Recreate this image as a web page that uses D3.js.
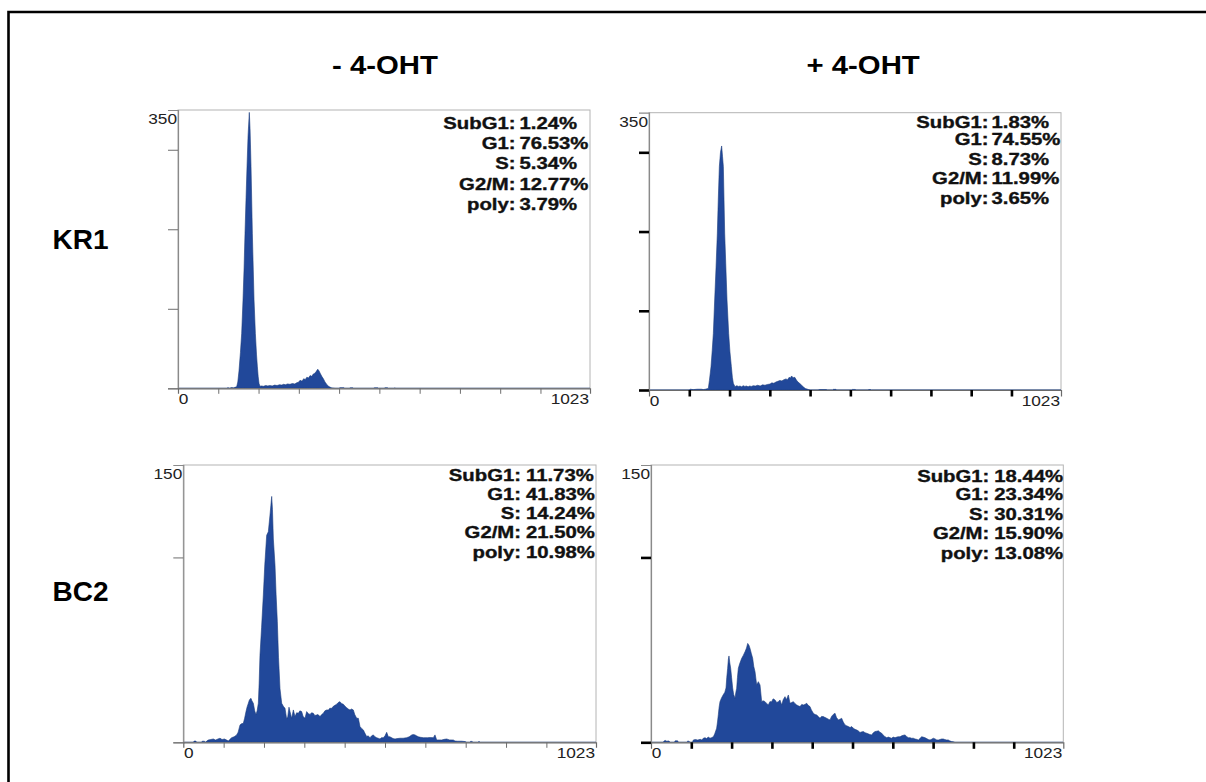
<!DOCTYPE html>
<html>
<head>
<meta charset="utf-8">
<script src="https://cdn.jsdelivr.net/npm/d3@7"></script>
<style>
  html, body { margin: 0; padding: 0; background: #ffffff; }
  svg { display: block; }
</style>
</head>
<body>
<svg id="chart" width="1206" height="782"></svg>
<script>
// ---------- data ----------
const conditions = ["- 4-OHT", "+ 4-OHT"];
const cellLines = ["KR1", "BC2"];
const phaseLabels = ["SubG1", "G1", "S", "G2/M", "poly"];

// phase percentages per histogram
const kr1MinusPct = ["1.24%", "76.53%", "5.34%", "12.77%", "3.79%"];
const kr1PlusPct  = ["1.83%", "74.55%", "8.73%", "11.99%", "3.65%"];
const bc2MinusPct = ["11.73%", "41.83%", "14.24%", "21.50%", "10.98%"];
const bc2PlusPct  = ["18.44%", "23.34%", "30.31%", "15.90%", "13.08%"];

// axis settings
const channelMax = 1023;
const channelTicks = [100, 200, 300, 400, 500, 600, 700, 800, 900];
const kr1CountMax = 350;
const bc2CountMax = 150;
const kr1CountTicks = [0, 100, 200, 300];
const bc2CountTicks = [0, 100];

// DNA content histograms: [channel, count]
const kr1Minus = [
  [0,0],[122,0],[124,1],[127,0],[130,0.5],[134,1],[137,0.5],[140,1],[143,1.5],[145.7,2],
  [148.5,8],[151.5,22],[155,45],[158.1,69],[161.4,111],[164,150],[166.4,195],[169,240],
  [171.4,279],[174,318],[177.1,347],[179,325],[181.3,279],[184.6,195],[188.8,111],[192.1,69],
  [195,42],[197.1,27],[199,15],[201.2,6],[203.7,2.5],[207.8,3],[212,2.5],[218,3.5],[223,3],
  [228,3.5],[234,3],[240,4],[246,3.5],[252,4.5],[258,4],[262,5],[267,4.5],[272,5.5],[278,5],
  [284,6],[290,5.5],[295,7],[299,7.5],[303,10],[308,9],[312,12],[316,11],[320,14],[324,13],
  [328,16],[332,15],[336,18],[340,19],[343,21],[347,24],[350,22],[353,19],[357,15],[361,12],
  [365,8],[369,5],[373,3],[377,1.5],[382,0.5],[390,0],[400,0],[402,0.8],[412,0.8],[414,0],
  [425,0],[428,0.6],[434,0.6],[436,0],[485,0],[488,0.6],[496,0.6],[498,0],[512,0],[514,0.7],
  [520,0.7],[522,0],[536,0],[538,0.5],[541,0],[1023,0]
];
const kr1Plus = [
  [0,0],[100,0],[102,1],[110,0.5],[120,1],[130,1],[135,0.5],[140,1],[144,1.5],[147.3,2],
  [150,12],[154,29.5],[157,50],[159.8,71.5],[163.1,113.6],[166.5,155],[169.7,198],[172,240],
  [174.7,282],[177.5,300],[180.4,308],[182.5,295],[184.6,282],[187.9,198],[190.5,160],
  [193.7,113.6],[197.8,71.5],[201,48],[204.5,29.5],[207,16],[209.4,8.4],[213.6,4.2],[218,5.5],
  [222,4.5],[226,5],[230,4],[234,5.5],[238,4.5],[242,5],[246,4],[250,5],[254,4.5],[259,5.5],
  [264,5],[270,6],[276,5],[282,6.5],[288,6],[294,7],[300.5,7.5],[305,9],[310,8.5],[315,10],
  [320,11],[325,12],[330,11.5],[335,13],[340,14],[344,13],[348,16],[351,15],[354,17.7],
  [358,15.5],[362,16],[366,12.6],[370,10],[374,8.4],[379,6],[383,4],[388,2],[395.7,0.6],
  [400,0],[420,0],[423,0.5],[440,0.5],[443,0],[456,0],[458,0.8],[464,0.8],[466,0],[503,0],
  [505,0.7],[512,0.7],[514,0],[544,0],[546,0.5],[550,0.5],[552,0],[1023,0]
];
const bc2Minus = [
  [0,0],[25,0],[27,0.7],[31,0.7],[33,0],[45,0],[47,0.6],[52,0.6],[55,0],[58,0.7],[62,1.25],
  [68,1.5],[74.4,1.8],[80,1.2],[86,1.8],[91,2.2],[96,1.5],[102,1.8],[107.5,1.2],[111.6,0.7],
  [115,1.5],[119.9,2.5],[126,3],[132.3,4],[136,5.5],[140.6,9.4],[144,10],[148.8,10.3],[152,13],
  [155.4,16.6],[158,19],[161.2,21.1],[164,23],[167.8,23.8],[170,22.5],[173.6,21.1],[177,17],
  [180.2,15],[183,17],[186,21.1],[188,32],[190.1,47.2],[194,62],[198.4,79.7],[202,96],
  [206.7,112],[210.8,113.9],[214.9,122.9],[217,128],[219.1,133],[221,126],[223.2,110],
  [227.3,95.9],[230,80],[233.1,65.2],[236,46],[239.7,29],[243.9,21.1],[248,19.5],[252.1,18.4],
  [256.2,12.6],[259,14],[262,19],[264.5,16.6],[268.6,13],[272.8,17.5],[276.9,13.9],[281,16],
  [285.2,15.7],[289,17],[293.4,16.6],[297,14],[301.7,13],[305.8,16.6],[310,15.5],[314.1,15.1],
  [318,16],[322.3,15.7],[326,14.5],[330.6,14.8],[334,15],[338.9,13.9],[343,15],[347.1,15.7],
  [351,17],[355.4,17.5],[360,17.5],[363,18.4],[367.8,18.4],[372,19.5],[376,20],[380.2,20.6],
  [384,21.5],[388.4,22],[392,21],[396.7,20.6],[401,19.5],[405,18.7],[409,18],[413.2,17.5],
  [417,18],[421.5,17.5],[425,15],[429.8,13],[433.9,13],[438,8.5],[442,7.5],[446.3,6.7],
  [450,5],[454.6,3.1],[458,3.5],[462.8,2.5],[467,3.5],[471.1,4],[475,3],[479.3,2.5],[483,2.2],
  [487.6,1.8],[491,2.5],[495.9,2.5],[500,3.5],[504.1,5.4],[508.3,3],[512,3],[516.5,2.5],
  [520,2],[524.8,1.8],[530,2],[537.2,2.2],[545,2.2],[553.7,2.5],[560,3],[566.1,3.96],[570,4.2],
  [574.4,4],[578,3.5],[582.6,3],[588,2.7],[595,2.5],[605,2.5],[612,2.6],[619.8,2.5],[623.9,4],
  [628.1,1.25],[635,1.3],[640.5,1.25],[647,1.6],[652.9,1.8],[660,1.3],[669.4,1.25],[673.5,0.7],
  [680,0.6],[690,0.6],[698.3,0.4],[702.5,0],[710,0],[712,0.5],[716,0.5],[718,0],[730,0],
  [733,0.5],[736,0],[1023,0]
];
const bc2Plus = [
  [0,0],[30,0],[33,0.8],[36,1],[39,0.6],[44,0.7],[48,0],[58,0],[60,0.8],[66,0.8],[68,0],[88,0],
  [91,0.6],[94,0.6],[97,0],[103,0],[105,1.25],[110,1.5],[116,1.2],[122,1.6],[126,1.25],
  [129.9,2.2],[134,2.5],[138,2],[142,2.8],[146.4,2.2],[150,2.5],[154.7,3],[158,4.5],[162.9,7.6],
  [165,11],[167.1,15],[169,19],[171.2,22],[175,24],[179.5,25.8],[183,27],[186.1,29.4],[188,35],
  [190.2,40],[192,45],[193.5,46.7],[195.5,43],[197.7,40],[200,35],[202.6,29.4],[205,26],
  [208.4,23.8],[210.5,27],[212.6,29.2],[214.5,35],[216.7,40],[220,42.5],[225,45.4],[229,47],
  [233.3,49],[237,51],[239.9,53.5],[243,52.5],[245.7,50.8],[249,48],[252.3,45.4],[255,41],
  [258.1,38.2],[262.2,31],[266.3,32.8],[270.5,31],[274.6,22],[278,22.5],[282.9,22],[287,21],
  [291.1,20.2],[295,22],[299.4,22],[303,23.5],[307.7,22.9],[312,21.5],[316,22],[320.1,22.9],
  [324.2,20.2],[328,23],[332.5,24.7],[336,23],[340.8,25.6],[344.9,21.1],[349,21.5],[353.2,22],
  [357,21],[361.5,20.2],[365,19.8],[369.7,19.3],[374,20.5],[378,20.2],[382,20.5],[386.3,21.1],
  [390,20],[394.5,19.3],[398,17.5],[402.8,15.7],[407,15],[411.1,14.8],[415,14],[419.4,13],
  [423,14],[427.6,13.9],[431,13.5],[435.9,13],[440,12.5],[444.2,12.1],[448,14],[452.4,15.1],
  [456.6,15.7],[460,13.5],[464.8,12.1],[469,12.5],[473.1,13],[477,11],[481.4,9.4],[485,9],
  [489.7,8.5],[494,8],[498,8.5],[502.1,7.6],[506,7],[510.3,6.7],[514,6.2],[518.6,5.3],[522,5.6],
  [526.9,5.8],[531,5.2],[535.2,4.9],[540,4.5],[543,4.2],[547.6,4],[551,5],[555.8,5.8],[560,6],
  [564.1,6.2],[568,5.5],[572.4,4.9],[576,4],[580.6,3],[585,2.5],[589,2.8],[593.1,2.5],[597,2.2],
  [601,2.8],[605.5,2.5],[610,2.8],[613,3],[617.9,3],[622,3.5],[626,3.8],[630.3,4],[634,3.2],
  [638.5,2.5],[643,2.5],[646,2.2],[650.9,2.2],[655,1.8],[659,1.6],[663.4,1.25],[667,2],
  [671.6,3],[675,2.8],[679.9,2.5],[684,2],[688,1.5],[692.3,1.25],[696,1.6],[700.6,2.2],[705,1.8],
  [709,1.3],[713,1.25],[717,1.5],[721,1.8],[725.4,1.8],[729,1.5],[733,1.3],[737.8,1.25],
  [741,0.8],[746.1,0.4],[750,0.3],[754.3,0],[1023,0]
];

// ---------- layout ----------
const svg = d3.select("#chart");
const FONT = "'Liberation Sans', Arial, Helvetica, sans-serif";
const SX = 1.15;       // horizontal stretch used for headings and axis labels
const SX_STATS = 1.27; // wider, heavier setting for the phase statistics

const panels = [
  { data: kr1Minus, pct: kr1MinusPct, yMax: kr1CountMax, yTicks: kr1CountTicks,
    box: { l: 178, t: 110, r: 590, b: 388.3 }, bold: false,
    colonX: 515.5, valueX: 519.5, lines: [128, 148.3, 168.8, 189.5, 209] },
  { data: kr1Plus, pct: kr1PlusPct, yMax: kr1CountMax, yTicks: kr1CountTicks,
    box: { l: 649, t: 112.7, r: 1061, b: 390 }, bold: true,
    colonX: 988.5, valueX: 991.5, lines: [127, 144.6, 164.3, 183.8, 203.6] },
  { data: bc2Minus, pct: bc2MinusPct, yMax: bc2CountMax, yTicks: bc2CountTicks,
    box: { l: 183.3, t: 465, r: 596, b: 742.3 }, bold: false,
    colonX: 521, valueX: 526, lines: [480.3, 499.6, 518.6, 537.6, 557] },
  { data: bc2Plus, pct: bc2PlusPct, yMax: bc2CountMax, yTicks: bc2CountTicks,
    box: { l: 651, t: 465, r: 1063.3, b: 742.3 }, bold: true,
    colonX: 989.3, valueX: 994.3, lines: [481, 499.8, 519.3, 538.8, 558] }
];

function label(sel, x, y, str, o) {
  const t = sel.append("text")
    .attr("transform", `translate(${x},${y}) scale(${o.sx || 1},1)`)
    .attr("text-anchor", o.anchor || "start")
    .attr("font-family", FONT)
    .attr("font-size", o.size)
    .attr("font-weight", o.weight || "normal")
    .attr("fill", o.fill || "#000")
    .text(str);
  if (o.outline) {
    t.attr("stroke", o.fill || "#000").attr("stroke-width", o.outline).attr("stroke-linejoin", "round");
  }
  return t;
}

// outer figure frame (left and top edges)
svg.append("path")
  .attr("d", "M8.5,790 L8.5,12 L1215,12")
  .attr("fill", "none").attr("stroke", "#000").attr("stroke-width", 2.6);

// column headings and row labels
const headX = [332, 806.5];
conditions.forEach((c, i) => {
  label(svg, headX[i], 73.5, c, { size: 25.5, weight: "bold", sx: SX });
});
const rowY = [249, 601];
cellLines.forEach((c, i) => {
  label(svg, 52.5, rowY[i], c, { size: 28, weight: "bold" });
});

const histArea = (x, y) => d3.area()
  .x(d => x(d[0]))
  .y0(y(0))
  .y1(d => y(Math.min(d[1], y.domain()[1])))
  .curve(d3.curveLinear);

panels.forEach((p, i) => {
  const { l, t, r, b } = p.box;
  const x = d3.scaleLinear().domain([0, channelMax]).range([l, r]);
  const y = d3.scaleLinear().domain([0, p.yMax]).range([b, t]);
  const g = svg.append("g");

  // plot frame
  g.append("rect")
    .attr("x", l).attr("y", t).attr("width", r - l).attr("height", b - t)
    .attr("fill", "#fff").attr("stroke", "#b4b4b4").attr("stroke-width", 1);

  // histogram
  const clipId = "clip" + i;
  g.append("clipPath").attr("id", clipId)
    .append("rect").attr("x", l).attr("y", t).attr("width", r - l).attr("height", b - t);
  g.append("path")
    .datum(p.data)
    .attr("clip-path", `url(#${clipId})`)
    .attr("d", histArea(x, y))
    .attr("fill", "#21489a")
    .attr("stroke", "#1b3c7e")
    .attr("stroke-width", 0.6)
    .attr("stroke-linejoin", "round");

  // axes
  const tickColor = p.bold ? "#000" : "#6e6e6e";
  const tickWidth = p.bold ? 2.6 : 1;
  const yAxis = d3.axisLeft(y).tickValues(p.yTicks).tickSize(10).tickFormat("");
  const xAxis = d3.axisBottom(x).tickValues(channelTicks).tickSize(p.bold ? 6.5 : 5.5).tickFormat("");

  const ya = g.append("g").attr("transform", `translate(${l},0)`).call(yAxis);
  const xa = g.append("g").attr("transform", `translate(0,${b})`).call(xAxis);
  [ya, xa].forEach(a => {
    a.select(".domain").attr("stroke", "#8a8a8a").attr("stroke-width", 1.2);
    a.selectAll(".tick line").attr("stroke", tickColor).attr("stroke-width", tickWidth);
  });
  xa.select(".domain").attr("stroke", "#6a6a6a");

  // axis end labels
  label(g, l - 1, t + 14, String(p.yMax), { size: 15, sx: SX, anchor: "end", fill: "#222" });
  label(g, x(0) + 0.8, b + 15.5, "0", { size: 15, sx: SX, fill: "#222" });
  label(g, x(channelMax) - 1, b + 15.5, String(channelMax), { size: 15, sx: SX, anchor: "end", fill: "#222" });

  // phase statistics
  phaseLabels.forEach((ph, k) => {
    const base = p.lines[k] + 0.5;
    label(g, p.colonX, base, ph + ":", { size: 16, weight: "bold", sx: SX_STATS, anchor: "end", fill: "#111", outline: 0.35 });
    label(g, p.valueX, base, p.pct[k], { size: 16, weight: "bold", sx: SX_STATS, fill: "#111", outline: 0.35 });
  });
});
</script>
</body>
</html>
